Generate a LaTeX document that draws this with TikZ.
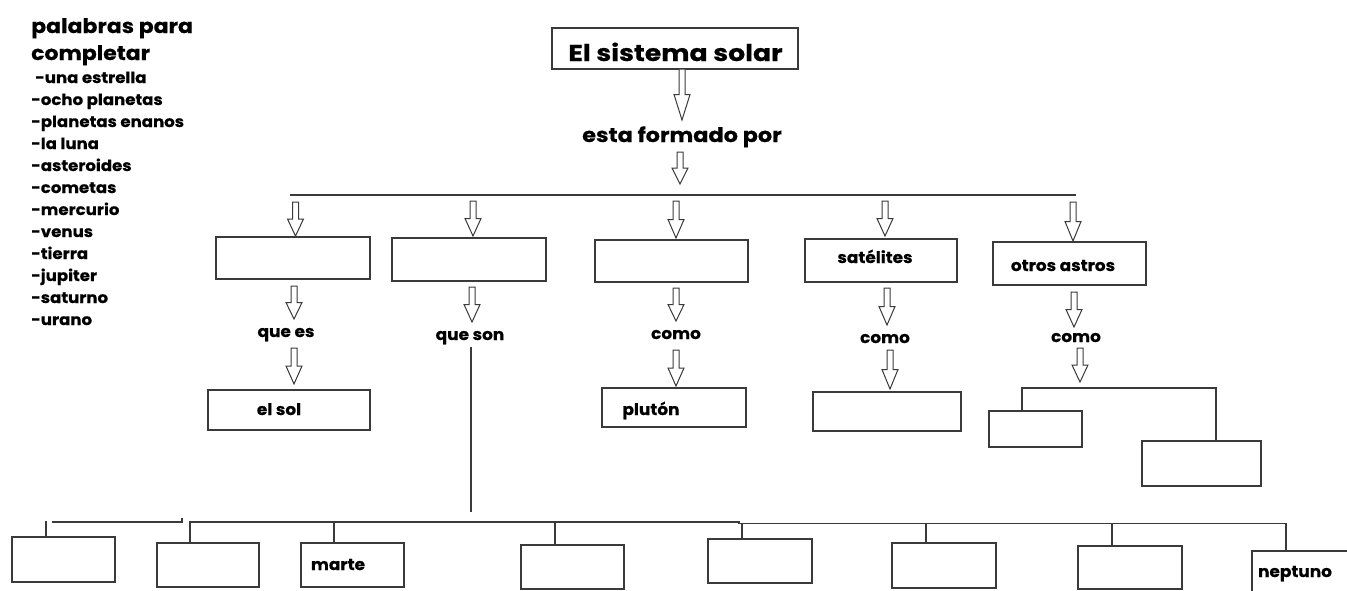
\documentclass[tikz,border=0pt]{standalone}
\usepackage{fontspec}
\setmainfont{Poppins}
\newfontfamily\lblfont{Poppins}[FakeStretch=1.06, BoldFeatures={FakeBold=0.5}]
\newfontfamily\ttlfont{Poppins}[FakeStretch=1.16, BoldFeatures={FakeBold=0.6}]
\newfontfamily\hdrfont{Poppins}[FakeStretch=1.10, BoldFeatures={FakeBold=0.5}]
\newfontfamily\itmfont{Poppins}[FakeStretch=1.07, BoldFeatures={FakeBold=0.5}]
\newfontfamily\effont{Poppins}[FakeStretch=1.12, BoldFeatures={FakeBold=0.5}]
\definecolor{ln}{HTML}{3A3A3A}
\tikzset{
  box/.style={draw=ln, line width=1.2pt, rectangle, inner sep=0pt},
  lbl/.style={inner sep=0pt, anchor=base, font=\lblfont\fontsize{16}{18}\selectfont\bfseries},
  itm/.style={inner sep=0pt, anchor=base west, font=\itmfont\fontsize{15.5}{17}\selectfont\bfseries},
  hdr/.style={inner sep=0pt, anchor=base west, font=\hdrfont\fontsize{20}{22}\selectfont\bfseries},
  arr/.style={draw=ln, line width=1pt, fill=white, line join=miter},
  conn/.style={draw=ln, line width=1.3pt},
}
\newcommand\harrow[3]{%
  \pgfmathsetmacro\hm{(#2+#3)/2}%
  \draw[arr] (#1-3,#2) -- (#1+3,#2) -- (#1+3,\hm) -- (#1+8,\hm) -- (#1,#3) -- (#1-8,\hm) -- (#1-3,\hm) -- cycle;}
\begin{document}
\begin{tikzpicture}[x=1pt,y=-1pt]
\useasboundingbox (0,0) rectangle (1347,590);
% word list
\node[hdr] (h1) at (31,33) {palabras para};
\node[hdr] (h2) at (31,60) {completar};
\node[itm] (w1) at (35,83) {-una estrella};
\node[itm] (w2) at (31,105) {-ocho planetas};
\node[itm] (w3) at (31,127) {-planetas enanos};
\node[itm] (w4) at (31,149) {-la luna};
\node[itm] (w5) at (31,171) {-asteroides};
\node[itm] (w6) at (31,193) {-cometas};
\node[itm] (w7) at (31,215) {-mercurio};
\node[itm] (w8) at (31,237) {-venus};
\node[itm] (w9) at (31,259) {-tierra};
\node[itm] (w10) at (31,281) {-jupiter};
\node[itm] (w11) at (31,303) {-saturno};
\node[itm] (w12) at (31,325) {-urano};
% title
\node[box, minimum width=246, minimum height=41] (title) at (675,48.5) {};
\node[inner sep=0pt, anchor=base, font=\ttlfont\fontsize{23}{25}\selectfont\bfseries] (tt) at (675.5,61) {El sistema solar};
\harrow{682}{69}{120}
\node[inner sep=0pt, anchor=base, font=\effont\fontsize{20}{22}\selectfont\bfseries] (ef) at (682,142) {esta formado por};
\harrow{680}{152}{184}
\coordinate (bl) at (290,195);
\coordinate (br) at (1076,195);
\draw[conn] (bl) -- (br);
% level-1 arrows
\harrow{295.5}{202}{236}
\harrow{473}{201}{236}
\harrow{676}{201}{238}
\harrow{885}{201}{236}
\harrow{1073}{202}{241}
% level-1 boxes
\node[box, minimum width=154, minimum height=42] (A) at (293,258) {};
\node[box, minimum width=154, minimum height=43] (B) at (469,259.5) {};
\node[box, minimum width=153, minimum height=42] (C) at (671.5,261) {};
\node[box, minimum width=152, minimum height=43] (D) at (881,260.5) {};
\node[box, minimum width=153, minimum height=43] (E) at (1069.5,263.5) {};
\node[lbl] (Dt) at (875,263) {satélites};
\node[lbl] (Et) at (1063,271) {otros astros};
% column A
\harrow{294}{286}{319}
\node[lbl] (qe) at (286,337) {que es};
\harrow{294}{348}{384}
\node[box, minimum width=162, minimum height=40] (sol) at (289,410) {};
\node[lbl] (solt) at (279,415) {el sol};
% column B
\harrow{472}{287}{322}
\node[lbl] (qs) at (470,340) {que son};
\coordinate (bv) at (471,512);
\draw[conn] (471,347) -- (bv);
% column C
\harrow{676}{288}{321}
\node[lbl] (co1) at (676,339) {como};
\harrow{676}{350}{386}
\node[box, minimum width=144, minimum height=39] (plu) at (674,407.5) {};
\node[lbl] (plut) at (651,415) {plutón};
% column D
\harrow{887}{288}{325}
\node[lbl] (co2) at (885,343) {como};
\harrow{890}{350}{389}
\node[box, minimum width=148, minimum height=39] (Db) at (887,411.5) {};
% column E
\harrow{1074}{292}{327}
\node[lbl] (co3) at (1076,342) {como};
\harrow{1080}{348}{382}
\node[box, minimum width=93, minimum height=36] (E1) at (1035.5,429) {};
\node[box, minimum width=119, minimum height=45] (E2) at (1201.5,463.5) {};
\coordinate (ebl) at (1022,388);
\coordinate (ebr) at (1216,388);
\draw[conn] (ebl |- E1.north) -- (ebl) -- (ebr) -- (ebr |- E2.north);
% bottom row
\node[box, minimum width=103, minimum height=45] (p1) at (63.5,559.5) {};
\node[box, minimum width=102, minimum height=44] (p2) at (208,565) {};
\node[box, minimum width=103, minimum height=44] (p3) at (352.5,565) {};
\node[lbl] (p3t) at (338,570) {marte};
\node[box, minimum width=103, minimum height=44] (p4) at (572.5,567) {};
\node[box, minimum width=104, minimum height=44] (p5) at (760,561) {};
\node[box, minimum width=104, minimum height=45] (p6) at (944,565.5) {};
\node[box, minimum width=104, minimum height=43] (p7) at (1130,567.5) {};
\draw[box] (1252,595) -- (1252,551) -- (1352,551);
\coordinate (p8) at (1286,551);
\node[lbl] (p8t) at (1295,577) {neptuno};
\coordinate (s1a) at (52,522);
\coordinate (s1b) at (182,522);
\draw[conn] (s1a) -- (s1b) -- (182,518);
\draw[conn] (46,521) -- (p1.north -| 46,0);
\coordinate (bus1) at (190,522);
\coordinate (bus2) at (739,522);
\coordinate (bus3) at (739,523.5);
\coordinate (bus4) at (1286,523.5);
\draw[conn] (p2.north -| bus1) -- (bus1) -- (bus2) -- (bus3) -- (bus4) -- (p8);
\draw[conn] (p3.north -| 334,0) -- (334,522);
\draw[conn] (p4.north -| 555,0) -- (555,522);
\draw[conn] (p5.north -| 742,0) -- (742,523.5);
\draw[conn] (p6.north -| 926,0) -- (926,523.5);
\draw[conn] (p7.north -| 1112,0) -- (1112,523.5);
\end{tikzpicture}
\end{document}
